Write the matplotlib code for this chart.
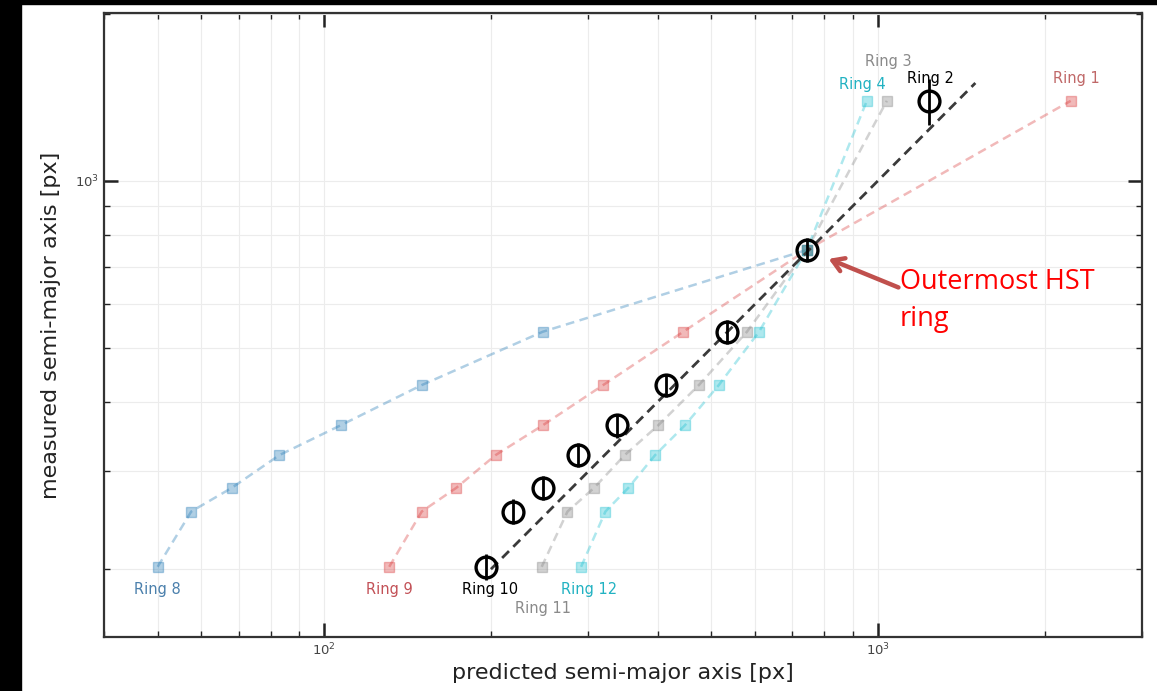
import matplotlib
matplotlib.use("Agg")
import matplotlib.pyplot as plt
from matplotlib.patches import Rectangle
from matplotlib.ticker import LogLocator, NullFormatter

# measured semi-major axis of each ring row (inner -> outer), plus the top row
meas = [202, 254, 280, 321, 363, 429, 535, 751]
meas_top = 1393

# predicted semi-major axis for each scaling
best_x = [196, 219, 248, 287, 338, 414, 534, 744, 1236]
best_err = [11, 13, 14, 16, 18, 21, 26, 37, 130]
blue_x = [50, 57.5, 68, 83, 107, 150, 248, 744]
pink_x = [131, 150, 173, 204, 248, 319, 445, 744, 2230]
gray_x = [247, 275, 307, 349, 401, 475, 580, 744, 1038]
cyan_x = [291, 322, 354, 396, 448, 516, 610, 744, 955]

one_to_one = [200, 1500]

fig = plt.figure(figsize=(11.57, 6.91), dpi=100)
# black edges of the screenshot
fig.patches.append(Rectangle((0, 0), 21 / 1157, 1, transform=fig.transFigure,
                             color="black", zorder=-1))
fig.patches.append(Rectangle((0, 1 - 4 / 691), 1, 4 / 691, transform=fig.transFigure,
                             color="black", zorder=-1))
ax = fig.add_axes([104 / 1157, 1 - 637 / 691, (1142 - 104) / 1157, (637 - 13) / 691])

yy = meas + [meas_top]
series = [
    (blue_x, meas, "tab:blue", 0.35),
    (pink_x, yy, "tab:red", 0.32),
    (gray_x, yy, "tab:gray", 0.35),
    (cyan_x, yy, "tab:cyan", 0.35),
]
for xs, ys, c, a in series:
    ax.plot(xs, ys, ls=(0, (3.5, 2.2)), color=c, alpha=a, lw=1.8, marker="s", ms=7,
            mec=c, mfc=c, zorder=2)

ax.plot(one_to_one, one_to_one, ls=(0, (3.5, 2.2)), color="#3a3a3a", lw=2, zorder=3)
ax.errorbar(best_x, yy, yerr=best_err, fmt="o", ms=15, mfc="none", mec="black",
            mew=2.4, ecolor="black", elinewidth=2, capsize=0, zorder=4)

# ring labels
lab = dict(fontsize=10.5, ha="center", va="center", textcoords="offset points")
ax.annotate("Ring 8", (blue_x[0], meas[0]), (0, -16), color="#2c6a9e", alpha=0.85, **lab)
ax.annotate("Ring 9", (pink_x[0], meas[0]), (0, -16), color="#b8333a", alpha=0.85, **lab)
ax.annotate("Ring 10", (best_x[0], meas[0]), (3, -16), color="black", **lab)
ax.annotate("Ring 11", (gray_x[0], meas[0]), (1, -30), color="#8a8a8a", **lab)
ax.annotate("Ring 12", (cyan_x[0], meas[0]), (6, -16), color="#22b2c2", **lab)
ax.annotate("Ring 1", (pink_x[-1], meas_top), (4, 16), color="#c06868", **lab)
ax.annotate("Ring 2", (best_x[-1], meas_top), (1, 16), color="black", **lab)
ax.annotate("Ring 3", (gray_x[-1], meas_top), (1, 28), color="#8a8a8a", **lab)
ax.annotate("Ring 4", (cyan_x[-1], meas_top), (-3, 11.5), color="#22b2c2", **lab)

# annotation for the outermost HST ring
ax.annotate("", xy=(best_x[7], meas[7]), xytext=(66, -27), textcoords="offset points",
            arrowprops=dict(arrowstyle="->,head_length=0.8,head_width=0.5",
                            color="#c0504d", lw=3.2, shrinkA=0, shrinkB=17))
ax.annotate("Outermost HST\nring", (best_x[7], meas[7]), (67, -13),
            textcoords="offset points", ha="left", va="top", color="#ff0000",
            fontsize=19.5, family="Open Sans", linespacing=1.45)

ax.set_xscale("log")
ax.set_yscale("log")
ax.set_xlim(40, 3000)
ax.set_ylim(151, 2005)
ax.xaxis.set_minor_locator(LogLocator(base=10, subs=range(2, 10)))
ax.yaxis.set_minor_locator(LogLocator(base=10, subs=range(2, 10)))
ax.xaxis.set_minor_formatter(NullFormatter())
ax.yaxis.set_minor_formatter(NullFormatter())

ax.grid(True, which="both", color="#ececec", lw=0.8, zorder=0)
ax.set_axisbelow(True)
ax.tick_params(which="both", direction="in", top=True, right=True, colors="#222222",
               labelcolor="#444444", labelsize=9.5)
ax.tick_params(which="major", length=10, width=1.8)
ax.tick_params(which="minor", length=4, width=1)
for s in ax.spines.values():
    s.set_color("#333333")
    s.set_linewidth(1.6)

ax.set_xlabel("predicted semi-major axis [px]", fontsize=16, color="#222222", labelpad=3)
ax.set_ylabel("measured semi-major axis [px]", fontsize=16, color="#222222", labelpad=10)

fig.savefig("out.png", dpi=100)
